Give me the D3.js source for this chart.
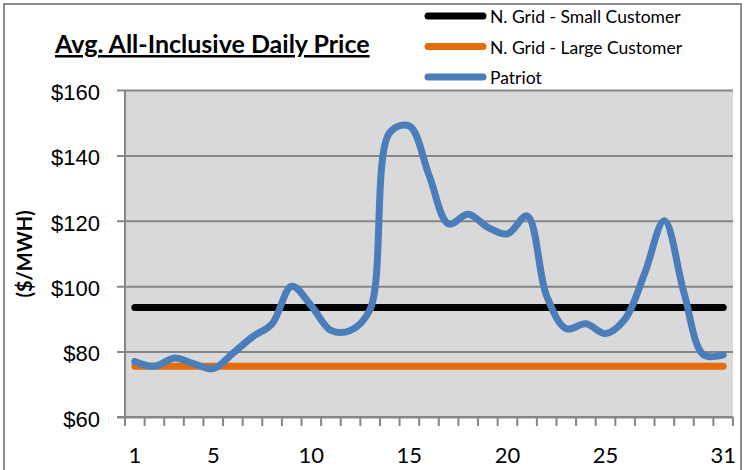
<!DOCTYPE html>
<html>
<head>
<meta charset="utf-8">
<script src="https://cdn.jsdelivr.net/npm/d3@7"></script>
<style>
  body { margin: 0; background: #fff; }
  svg { display: block; font-family: Lato, "Open Sans", sans-serif; }
</style>
</head>
<body>
<svg id="chart" width="745" height="470"></svg>
<script>
var svgWidth = 745;
var svgHeight = 470;

// data
var days = d3.range(1, 32);
var dayLabels = [1, 5, 10, 15, 20, 25, 31];
var yTicks = [60, 80, 100, 120, 140, 160];
var smallCustomer = 93.5;
var largeCustomer = 75.5;
var patriot = [77, 75.5, 78, 76.3, 74.8, 79.5, 84.5, 88.5, 100, 94,
  86.5, 86.5, 93, 147, 149, 134, 119, 122, 118, 116,
  121.5, 97, 87, 88.5, 85.5, 90, 104, 120, 98, 79, 79];

var seriesNames = ["N. Grid - Small Customer", "N. Grid - Large Customer", "Patriot"];
var seriesColors = ["#000000", "#e46c0a", "#4a7ebb"];

var plot = { left: 125, right: 733, top: 90, bottom: 417 };

var svg = d3.select("#chart");

// outer frame
svg.append("rect")
  .attr("x", 4).attr("y", 4)
  .attr("width", 737).attr("height", 480)
  .attr("fill", "#fff")
  .attr("stroke", "#8c8c8c")
  .attr("stroke-width", 2);

var x = d3.scaleBand()
  .domain(days)
  .range([plot.left, plot.right]);

var y = d3.scaleLinear()
  .domain([60, 160])
  .range([plot.bottom, plot.top]);

// plot background
svg.append("rect")
  .attr("x", plot.left).attr("y", plot.top)
  .attr("width", plot.right - plot.left)
  .attr("height", plot.bottom - plot.top)
  .attr("fill", "#d9d9d9");

// y axis with gridlines
var yAxis = svg.append("g")
  .attr("transform", "translate(" + plot.left + ",0)")
  .call(d3.axisLeft(y)
    .tickValues(yTicks)
    .tickSize(-(plot.right - plot.left))
    .tickPadding(25)
    .tickFormat(function(d){ return "$" + d; }));
yAxis.select(".domain").remove();
yAxis.selectAll(".tick line")
  .attr("stroke", "#868686")
  .attr("stroke-width", 2)
  .attr("x1", -8);
yAxis.selectAll(".tick text")
  .attr("font-size", 22)
  .attr("dy", "0.42em")
  .attr("fill", "#000");

// left axis line
svg.append("line")
  .attr("x1", plot.left).attr("x2", plot.left)
  .attr("y1", plot.top).attr("y2", plot.bottom)
  .attr("stroke", "#868686")
  .attr("stroke-width", 2);

// x axis: ticks at category boundaries
var xAxis = svg.append("g")
  .attr("transform", "translate(0," + plot.bottom + ")");
xAxis.append("line")
  .attr("x1", plot.left - 8).attr("x2", plot.right)
  .attr("stroke", "#868686")
  .attr("stroke-width", 2);
xAxis.selectAll(".bt")
  .data(days.concat([32]))
  .enter()
  .append("line")
  .attr("class", "bt")
  .attr("x1", function(d){ return d <= 31 ? x(d) : x(31) + x.bandwidth(); })
  .attr("x2", function(d){ return d <= 31 ? x(d) : x(31) + x.bandwidth(); })
  .attr("y1", 0).attr("y2", 9)
  .attr("stroke", "#868686")
  .attr("stroke-width", 2);
xAxis.selectAll(".lbl")
  .data(dayLabels)
  .enter()
  .append("text")
  .attr("class", "lbl")
  .attr("x", function(d){ return x(d) + x.bandwidth() / 2; })
  .attr("y", 46)
  .attr("text-anchor", "middle")
  .attr("font-size", 22)
  .text(function(d){ return d; });

// lines
var cx = function(d, i){ return x(days[i]) + x.bandwidth() / 2; };

var flatLine = d3.line()
  .x(cx)
  .y(function(d){ return y(d); });

var smoothLine = d3.line()
  .x(cx)
  .y(function(d){ return y(d); })
  .curve(d3.curveCatmullRom.alpha(0.5));

svg.append("path")
  .datum(days.map(function(){ return largeCustomer; }))
  .attr("d", flatLine)
  .attr("fill", "none")
  .attr("stroke", seriesColors[1])
  .attr("stroke-width", 7)
  .attr("stroke-linecap", "round");

svg.append("path")
  .datum(days.map(function(){ return smallCustomer; }))
  .attr("d", flatLine)
  .attr("fill", "none")
  .attr("stroke", seriesColors[0])
  .attr("stroke-width", 7)
  .attr("stroke-linecap", "round");

svg.append("path")
  .datum(patriot)
  .attr("d", smoothLine)
  .attr("fill", "none")
  .attr("stroke", seriesColors[2])
  .attr("stroke-width", 7)
  .attr("stroke-linecap", "round")
  .attr("stroke-linejoin", "round");

// title
svg.append("text")
  .attr("x", 55).attr("y", 53)
  .attr("font-size", 25)
  .attr("font-weight", "bold")
  .attr("text-decoration", "underline")
  .text("Avg. All-Inclusive Daily Price");

// y axis title
svg.append("text")
  .attr("transform", "translate(32,254) rotate(-90)")
  .attr("text-anchor", "middle")
  .attr("font-size", 20)
  .attr("font-weight", "bold")
  .text("($/MWH)");

// legend
var legend = svg.selectAll(".legend")
  .data(seriesNames)
  .enter()
  .append("g")
  .attr("class", "legend")
  .attr("transform", function(d, i){ return "translate(425," + (16 + i * 30.5) + ")"; });
legend.append("line")
  .attr("x1", 3).attr("x2", 58)
  .attr("stroke", function(d, i){ return seriesColors[i]; })
  .attr("stroke-width", 7)
  .attr("stroke-linecap", "round");
legend.append("text")
  .attr("x", 65).attr("y", 7)
  .attr("font-size", 17.5)
  .text(function(d){ return d; });
</script>
</body>
</html>
